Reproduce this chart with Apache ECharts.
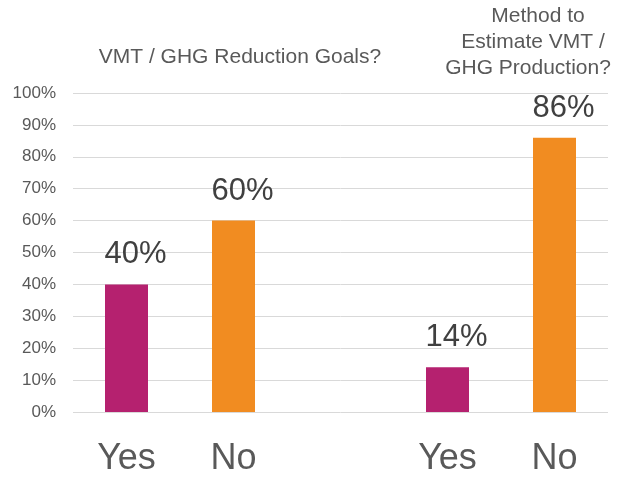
<!DOCTYPE html>
<html>
<head>
<meta charset="utf-8">
<script src="https://cdn.jsdelivr.net/npm/echarts@6/dist/echarts.min.js"></script>
<style>
  html, body { margin: 0; padding: 0; background: #fff; }
  #main { width: 617px; height: 477px; }
</style>
</head>
<body>
<div id="main"></div>
<script>
'use strict'

// categories (empty slot separates the two questions)
const categories = ['Yes', 'No', '', 'Yes', 'No'];
// share of answers, percent
const shares = [40, 60, null, 14, 86];
const barColors = ['#B5216F', '#F18C21', '#B5216F', '#B5216F', '#F18C21'];
const leftTitle = 'VMT / GHG Reduction Goals?';
const rightTitleLines = ['Method to', 'Estimate VMT /', 'GHG Production?'];

var myChart = echarts.init(document.getElementById('main'));

var fontFamily = 'Arial, "Liberation Sans", sans-serif';
var titleStyle = { fontFamily: fontFamily, fontSize: 21, fontWeight: 'normal', color: '#595959', lineHeight: 26 };

var option = {
  animation: false,
  title: [
    {
      text: leftTitle,
      left: 235,
      top: 39,
      textAlign: 'center',
      textStyle: titleStyle
    }
  ],
  grid: {
    left: 73,
    right: 9,
    top: 93,
    bottom: 60,
    containLabel: false
  },
  xAxis: {
    type: 'category',
    data: categories,
    axisLine: { show: false },
    axisTick: { show: false },
    axisLabel: {
      margin: 29,
      fontFamily: fontFamily,
      fontSize: 36,
      color: '#595959'
    }
  },
  yAxis: {
    type: 'value',
    min: 0,
    max: 100,
    interval: 10,
    axisLine: { show: false },
    axisTick: { show: false },
    splitLine: { lineStyle: { color: '#D9D9D9', width: 1 } },
    axisLabel: {
      margin: 17,
      formatter: '{value}%',
      fontFamily: fontFamily,
      fontSize: 17,
      color: '#595959'
    }
  },
  series: []
};

// right title: one line per entry, each centred a bit differently like the original
let lineCenters = [533, 528, 523];
for (let i = 0; i < rightTitleLines.length; i++) {
  option.title.push({
    text: rightTitleLines[i],
    left: lineCenters[i],
    top: -2 + i * 26,
    textAlign: 'center',
    textStyle: titleStyle
  });
}

// build the bar data items, each with its own colour
let items = [];
for (let i = 0; i < shares.length; i++) {
  if (shares[i] === null) {
    items.push('-');
    continue;
  }
  items.push({
    value: shares[i],
    itemStyle: { color: barColors[i] }
  });
}

option.series.push({
  type: 'bar',
  data: items,
  barWidth: 43,
  label: {
    show: true,
    position: 'top',
    distance: 14,
    align: 'left',
    offset: [-22, 0],
    formatter: '{c}%',
    fontFamily: fontFamily,
    fontSize: 31,
    color: '#404040'
  }
});

myChart.setOption(option);
</script>
</body>
</html>
